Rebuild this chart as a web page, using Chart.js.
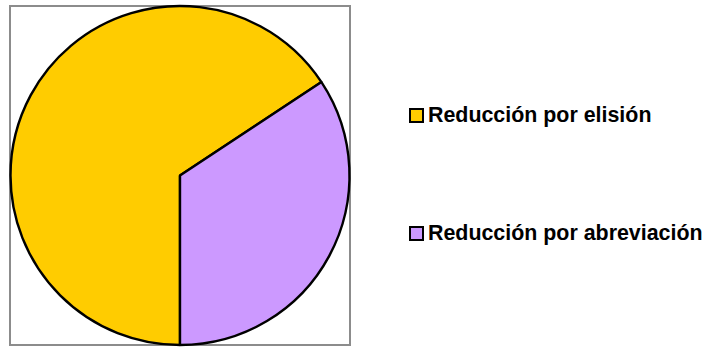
<!DOCTYPE html>
<html>
<head>
<meta charset="utf-8">
<script src="https://cdn.jsdelivr.net/npm/chart.js@4"></script>
<style>
  body { margin: 0; background: #fff; font-family: 'Liberation Sans', Arial, sans-serif; }
  #wrap { position: relative; width: 705px; height: 347px; }
  #frame { position: absolute; left: 9px; top: 5px; width: 338px; height: 337px; border: 2px solid #8c8c8c; }
  #pie { position: absolute; left: 0; top: 0; }
  .item { position: absolute; left: 409px; display: flex; align-items: center; font-weight: bold; font-size: 21.4px; color: #000; white-space: nowrap; }
  .swatch { width: 11px; height: 11px; border: 2px solid #000; margin-right: 4px; }
</style>
</head>
<body>
<div id="wrap">
  <div id="frame"></div>
  <canvas id="pie" width="360" height="351"></canvas>
  <div id="legend"></div>
</div>
<script>
// Reducción por elisión vs abreviación
const labels = ['Reducción por elisión', 'Reducción por abreviación'];
const values = [23, 12];
const colors = ['#FFCC00', '#CC99FF'];
const legendY = [116, 234];

const ctx = document.getElementById('pie').getContext('2d');
new Chart(ctx, {
  type: 'pie',
  data: {
    labels: labels,
    datasets: [{
      data: values,
      backgroundColor: colors,
      borderColor: '#000',
      borderWidth: 2.4,
    }],
  },
  options: {
    responsive: false,
    animation: false,
    rotation: 180,
    radius: 169.5,
    layout: { padding: 0 },
    plugins: {
      legend: { display: false },
      tooltip: { enabled: false },
    },
  },
});

// legend on the right, same order as the slices
const legend = document.getElementById('legend');
labels.forEach((label, i) => {
  const item = document.createElement('div');
  item.className = 'item';
  item.style.top = (legendY[i] - 13) + 'px';
  item.innerHTML = `<span class="swatch" style="background:${colors[i]}"></span><span>${label}</span>`;
  legend.appendChild(item);
});
</script>
</body>
</html>
